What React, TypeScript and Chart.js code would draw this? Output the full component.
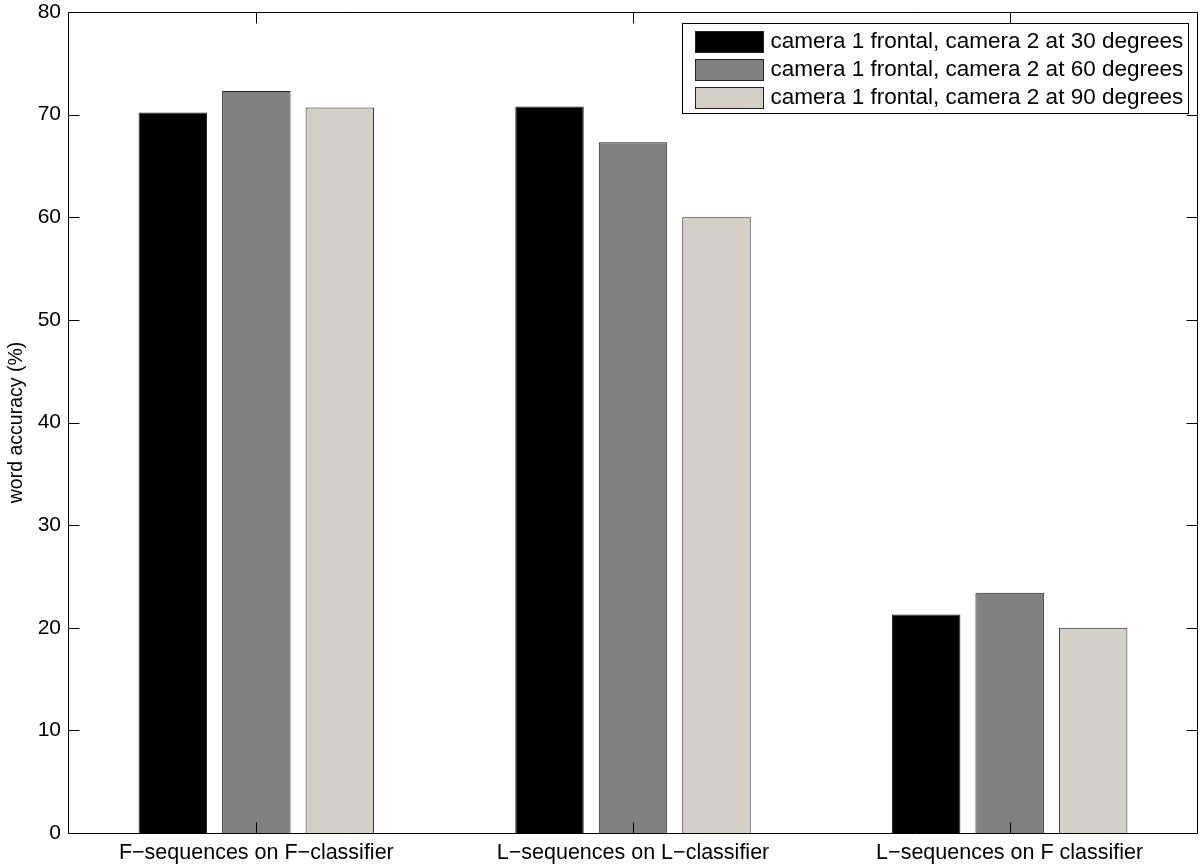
import React, { useEffect, useRef } from "react";
import { Chart, registerables } from "chart.js";

Chart.register(...registerables);

const categories = [
  "F\u2212sequences on F\u2212classifier",
  "L\u2212sequences on L\u2212classifier",
  "L\u2212sequences on F classifier",
];
const seriesLabels = [
  "camera 1 frontal, camera 2 at 30 degrees",
  "camera 1 frontal, camera 2 at 60 degrees",
  "camera 1 frontal, camera 2 at 90 degrees",
];
const cam30 = [70.2, 70.8, 21.3];
const cam60 = [72.3, 67.3, 23.4];
const cam90 = [70.7, 60.0, 20.0];
const yTicks = [0, 10, 20, 30, 40, 50, 60, 70, 80];
const colors = ["#000000", "#808080", "#d4d0c8"];

const FONT = "'Liberation Sans', Arial, Helvetica, sans-serif";

const framePlugin = {
  id: "matlabFrame",
  afterDraw(chart: any) {
    const { ctx, chartArea: a, scales } = chart;
    const ys = scales.y;
    const xs = scales.x;
    ctx.save();
    ctx.strokeStyle = "#000";
    ctx.lineWidth = 1;
    const L = Math.round(a.left) + 0.5;
    const R = Math.round(a.right) - 0.5;
    const T = Math.round(a.top) + 0.5;
    const B = Math.round(a.bottom) + 0.5;
    ctx.beginPath();
    ctx.rect(L, T, R - L, B - T);
    ctx.stroke();
    const tl = 11;
    ctx.beginPath();
    yTicks.forEach((v) => {
      const y = Math.round(ys.getPixelForValue(v)) + 0.5;
      ctx.moveTo(L, y);
      ctx.lineTo(L + tl, y);
      ctx.moveTo(R, y);
      ctx.lineTo(R - tl, y);
    });
    categories.forEach((_, i) => {
      const x = Math.round(xs.getPixelForValue(i)) + 0.5;
      ctx.moveTo(x, B);
      ctx.lineTo(x, B - tl);
      ctx.moveTo(x, T);
      ctx.lineTo(x, T + tl);
    });
    ctx.stroke();

    // legend
    const ds = chart.data.datasets;
    const boxR = R - 9;
    const boxL = 682.5;
    const boxT = T + 11;
    const boxB = boxT + 90;
    ctx.fillStyle = "#fff";
    ctx.fillRect(boxL, boxT, boxR - boxL, boxB - boxT);
    ctx.strokeRect(boxL, boxT, boxR - boxL, boxB - boxT);
    ctx.font = `22.5px ${FONT}`;
    ctx.textBaseline = "middle";
    ctx.textAlign = "left";
    ds.forEach((d: any, i: number) => {
      const cy = boxT + 17 + i * 28;
      const sx = boxL + 13;
      ctx.fillStyle = d.backgroundColor;
      ctx.fillRect(sx, Math.round(cy - 10) + 0.5, 68, 21);
      ctx.strokeStyle = "#222";
      ctx.strokeRect(sx, Math.round(cy - 10) + 0.5, 68, 21);
      ctx.fillStyle = "#000";
      ctx.fillText(d.label, sx + 75, cy + 1);
    });
    ctx.restore();
  },
};

export default function App() {
  const ref = useRef<HTMLCanvasElement>(null);
  useEffect(() => {
    document.body.style.margin = "0";
    const canvas = ref.current!;
    const chart = new Chart(canvas, {
      type: "bar",
      data: {
        labels: categories,
        datasets: [cam30, cam60, cam90].map((vals, i) => ({
          label: seriesLabels[i],
          data: vals,
          backgroundColor: colors[i],
          borderColor: "#222",
          borderWidth: 1,
          categoryPercentage: 0.665,
          barPercentage: 0.82,
        })),
      },
      options: {
        responsive: false,
        animation: false,
        layout: { padding: { top: 12, right: 2, left: 0, bottom: 0 } },
        plugins: {
          legend: { display: false },
          tooltip: { enabled: false },
        },
        scales: {
          x: {
            grid: { display: false, drawTicks: false },
            border: { display: false },
            ticks: {
              font: { family: FONT, size: 21.5 },
              color: "#000",
              padding: 7,
              maxRotation: 0,
              autoSkip: false,
            },
            afterFit: (s: any) => {
              s.height = 34;
              s.paddingLeft = 0;
              s.paddingRight = 0;
            },
          },
          y: {
            min: 0,
            max: 80,
            grid: { display: false, drawTicks: false },
            border: { display: false },
            ticks: {
              stepSize: 10,
              font: { family: FONT, size: 21 },
              color: "#000",
              padding: 7,
            },
            title: {
              display: true,
              text: "word accuracy (%)",
              font: { family: FONT, size: 19.5 },
              color: "#000",
              padding: { top: 5, bottom: 0 },
            },
            afterFit: (s: any) => {
              s.width = 68;
              s.paddingTop = 0;
              s.paddingBottom = 0;
            },
          },
        },
      },
      plugins: [framePlugin],
    });
    return () => chart.destroy();
  }, []);
  return (
    <div style={{ width: 1200, height: 867, background: "#fff" }}>
      <canvas ref={ref} width={1200} height={867} />
    </div>
  );
}
